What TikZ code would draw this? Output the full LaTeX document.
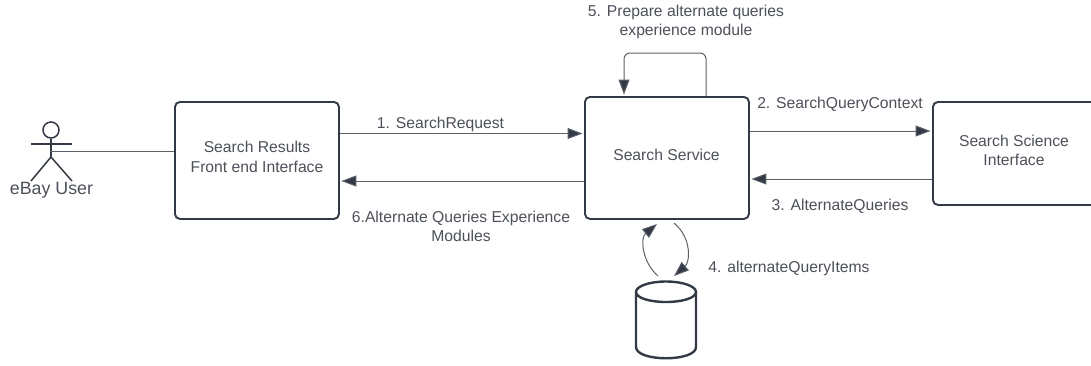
\documentclass[tikz,border=0pt]{standalone}
\usepackage{fontspec}
\setmainfont{Liberation Sans}
\usetikzlibrary{arrows.meta}
\definecolor{ink}{HTML}{333A45}
\definecolor{wire}{HTML}{5A6068}
\definecolor{txt}{HTML}{4C5059}
\tikzset{
  x=1pt,y=-1pt,
  boxnode/.style={draw=ink,line width=1.9pt,rounded corners=5pt,anchor=north west,inner sep=0pt},
  lbl/.style={text=txt,font=\fontsize{15.7}{19.5}\selectfont,align=center,inner sep=0pt},
  conn/.style={draw=wire,line width=1pt},
  arr/.style={conn,shorten >=1.5pt,-{Triangle[length=15pt,width=11pt,fill=ink]}},
  fig/.style={draw=ink,line width=1.5pt},
  dbline/.style={draw=ink,line width=2.4pt},
}
\begin{document}
\begin{tikzpicture}
\useasboundingbox (0,0) rectangle (1091,365);
\node[boxnode,minimum width=164pt,minimum height=117pt] (front) at (174,101) {};
\node[boxnode,minimum width=164pt,minimum height=122pt] (svc) at (584,96) {};
\node[boxnode,minimum width=190pt,minimum height=103pt] (sci) at (932,101) {};
\node[lbl] (frontt) at (257,157) {Search Results\\Front end Interface};
\node[lbl] (svct) at (666.5,155) {Search Service};
\node[lbl] (scit) at (1014,150.5) {Search Science\\Interface};
% actor
\node[draw=ink,line width=1.5pt,circle,minimum size=16pt,inner sep=0pt] (head) at (51,130) {};
\coordinate (hip) at (51,157);
\coordinate (handl) at (31,144);
\coordinate (handr) at (72,144);
\coordinate (footl) at (31,181);
\coordinate (footr) at (72,181);
\coordinate (neck) at (50,151);
\draw[fig] (head.south) -- (hip);
\draw[fig] (handl) -- (handr);
\draw[fig] (footl) -- (hip) -- (footr);
\node[text=txt,font=\fontsize{17.8}{19}\selectfont,inner sep=0pt] (user) at (51.5,190) {eBay User};
\draw[conn] (neck) -- (neck -| front.west);
% horizontal messages
\draw[arr] (front.east |- 0,133.5) -- (svc.west |- 0,133.5);
\draw[arr] (svc.west |- 0,181) -- (front.east |- 0,181);
\draw[arr] (svc.east |- 0,131) -- (sci.west |- 0,131);
\draw[arr] (sci.west |- 0,179) -- (svc.east |- 0,179);
% self loop
\draw[arr,rounded corners=6pt] (706,96) -- (706,53) -- (624,53) -- (624,96);
% database
\node[inner sep=0pt,minimum width=60pt,minimum height=78pt] (db) at (666,320) {};
\draw[dbline,fill=white] (636,292) -- (636,347) .. controls (636,362) and (696,362) .. (696,347) -- (696,292);
\draw[dbline] (666,281.5) .. controls (650,281.5) and (636,286) .. (636,292) .. controls (636,298) and (650,302) .. (666,302) .. controls (682,302) and (696,298) .. (696,292) .. controls (696,286) and (682,281.5) .. (666,281.5) -- cycle;
% curved arrows
\coordinate (la) at (658,276);
\coordinate (lb) at (657,224);
\coordinate (ra) at (674,223);
\coordinate (rb) at (674,276);
\draw[arr,shorten >=0pt] (la) .. controls (642,262) and (640,238) .. (lb);
\draw[arr,shorten >=0pt] (ra) .. controls (692,238) and (690,262) .. (rb);
% labels
\node[lbl] (m1) at (440.5,124) {1. SearchRequest};
\node[lbl] (m2) at (840,104) {2. SearchQueryContext};
\node[lbl] (m3) at (840,206) {3. AlternateQueries};
\node[lbl] (m4) at (789,268) {4. alternateQueryItems};
\node[lbl] (m5) at (686,22) {5. Prepare alternate queries\\experience module};
\node[lbl] (m6) at (461,226.5) {6.Alternate Queries Experience\\Modules};
\end{tikzpicture}
\end{document}
